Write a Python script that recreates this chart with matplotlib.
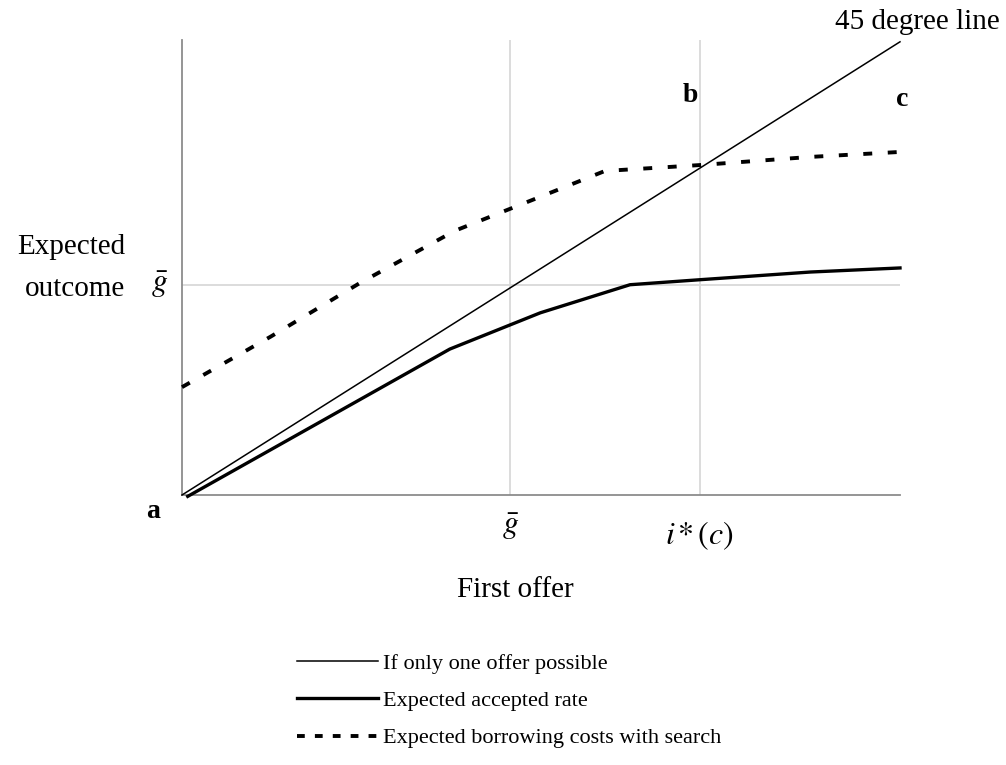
import matplotlib
matplotlib.use("Agg")
import matplotlib.pyplot as plt
from matplotlib.lines import Line2D

plt.rcParams['font.family'] = ['Liberation Serif', 'DejaVu Serif']
plt.rcParams['mathtext.fontset'] = 'stix'

# Data (x: first offer, y: expected outcome)
x_45 = [0, 10]
y_45 = [0, 10]
x_acc = [0.08, 3.73, 4.99, 6.24, 7.21, 8.75, 10.0]
y_acc = [-0.03, 3.22, 4.02, 4.64, 4.75, 4.92, 5.01]
x_cost = [0.0, 1.23, 2.48, 3.80, 4.99, 5.89, 7.21, 8.75, 10.0]
y_cost = [2.38, 3.49, 4.68, 5.83, 6.58, 7.15, 7.28, 7.46, 7.57]
g_bar = 4.57
g_bar_y = 4.64
i_star = 7.21
labels = ['If only one offer possible', 'Expected accepted rate',
          'Expected borrowing costs with search']

fig = plt.figure(figsize=(10.06, 7.65), dpi=100)
ax = fig.add_axes([182/1006, 1-495/765, (900-182)/1006, (495-40)/765])
ax.set_xlim(0, 10)
ax.set_ylim(0, 10.04)

grid_c = '#d9d9d9'
ax.axvline(g_bar, color=grid_c, lw=1.3, zorder=1)
ax.axvline(i_star, color=grid_c, lw=1.3, zorder=1)
ax.axhline(g_bar_y, color=grid_c, lw=1.3, zorder=1)

dash = (2.3, 4.0)
ax.plot(x_45, y_45, color='black', lw=1.1, zorder=3, clip_on=False)
ax.plot(x_acc, y_acc, color='black', lw=2.4, zorder=3, clip_on=False)
ax.plot(x_cost, y_cost, color='black', lw=2.8, dashes=dash, zorder=3, clip_on=False)

for s in ['top', 'right']:
    ax.spines[s].set_visible(False)
for s in ['left', 'bottom']:
    ax.spines[s].set_color('#8c8c8c')
    ax.spines[s].set_linewidth(1.3)
ax.set_xticks([])
ax.set_yticks([])

fs = 21
ax.text(g_bar, -0.35, r'$\bar{g}$', ha='center', va='top', fontsize=23)
ax.text(i_star, -0.55, r'$i\,{*}\,(c)$', ha='center', va='top', fontsize=23)
ax.text(-0.2, g_bar_y, r'$\bar{g}$', ha='right', va='center', fontsize=23)
fig.text(125/1006, 1-268/765, 'Expected\noutcome', ha='right', va='center',
         fontsize=fs, linespacing=1.8)
fig.text(515/1006, 1-590/765, 'First offer', ha='center', va='center', fontsize=fs)
fig.text(1000/1006, 1-22/765, '45 degree line', ha='right', va='center', fontsize=fs)
fig.text(153/1006, 1-511/765, 'a', ha='center', va='center', fontsize=20, fontweight='bold')
fig.text(690/1006, 1-96/765, 'b', ha='center', va='center', fontsize=20, fontweight='bold')
fig.text(902/1006, 1-99/765, 'c', ha='center', va='center', fontsize=20, fontweight='bold')

handles = [Line2D([], [], color='black', lw=1.1),
           Line2D([], [], color='black', lw=2.4),
           Line2D([], [], color='black', lw=2.8, dashes=(2.0, 2.6))]
fig.legend(handles, labels, loc='upper left', bbox_to_anchor=(297/1006, 1-653/765),
           frameon=False, fontsize=16, handlelength=3.65, handletextpad=0.22,
           labelspacing=0.76, borderaxespad=0, borderpad=0)

fig.savefig('out.png', dpi=100)
